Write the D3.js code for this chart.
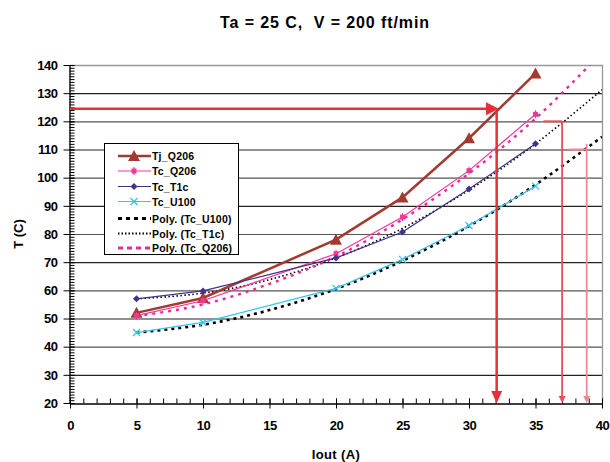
<!DOCTYPE html>
<meta charset="utf-8">
<script src="https://d3js.org/d3.v7.min.js"></script>
<style>
body { margin: 0; background: #fff; }
text { font-family: "Liberation Sans", Arial, sans-serif; font-weight: bold; fill: #000; }
.tick text { font-size: 13px; letter-spacing: -0.5px; }
.legend text { font-size: 10.5px; letter-spacing: 0.2px; }
</style>
<body>
<script>

// measured data (Iout in A, T in C)
var iout = [5, 10, 20, 25, 30, 35];
var tjQ206 = [52, 57.3, 78, 93, 114, 137];
var tcQ206 = [51, 56.3, 73, 86, 102.5, 122.5];
var tcT1c  = [57, 59.8, 71.5, 80.7, 96, 112];
var tcU100 = [45, 48.6, 60.7, 71, 83, 97];

// trendlines
var trendX = [5, 10, 15, 20, 25, 30, 35, 40];
var polyU100 = [45, 47.8, 53, 60.5, 70.5, 82.8, 97.5, 114.5];
var polyT1c  = [57, 59, 63.8, 71.5, 82, 95.6, 112, 131.2];
var polyQ206 = [50.8, 55, 62.3, 72, 85.2, 101.5, 121, 144.5];

var xTicks = [0, 5, 10, 15, 20, 25, 30, 35, 40];
var yTicks = [20, 30, 40, 50, 60, 70, 80, 90, 100, 110, 120, 130, 140];

var width = 610, height = 462;

var x = d3.scaleLinear().domain([0, 40]).range([70, 602]);
var y = d3.scaleLinear().domain([20, 140]).range([403, 65]);

var svg = d3.select("body").append("svg")
    .attr("width", width)
    .attr("height", height);

svg.append("defs").append("clipPath").attr("id", "plot")
  .append("rect")
    .attr("x", x(0)).attr("y", y(140))
    .attr("width", x(40) - x(0)).attr("height", y(20) - y(140));

// title
svg.append("text")
    .attr("x", 325).attr("y", 28)
    .attr("text-anchor", "middle")
    .style("font-size", "16px")
    .style("letter-spacing", "0.9px")
    .style("white-space", "pre")
    .text("Ta = 25 C,  V = 200 ft/min");

// grid
svg.append("g").selectAll("line")
    .data(yTicks.filter(function(d) { return d > 20 && d < 140; }))
    .enter().append("line")
    .attr("x1", x(0)).attr("x2", x(40))
    .attr("y1", function(d) { return y(d) + 0.5; })
    .attr("y2", function(d) { return y(d) + 0.5; })
    .style("stroke", function(d, i) { return i % 2 ? "#555" : "#222"; })
    .style("stroke-width", 1.2);

// top and right frame
svg.append("path")
    .attr("d", "M" + x(0) + "," + (y(140) + 0.5) + "H" + (x(40) + 0.5) + "V" + y(20))
    .style("fill", "none").style("stroke", "#999").style("stroke-width", 1.3);

// minor ticks
svg.append("g")
    .attr("transform", "translate(" + (x(0) - 0.5) + ",0)")
    .call(d3.axisRight(y).tickValues(d3.range(20, 141, 1)).tickSize(5).tickFormat(""))
    .call(function(g) { g.select(".domain").remove(); });
svg.append("g")
    .attr("transform", "translate(0," + (y(20) + 0.5) + ")")
    .call(d3.axisTop(x).tickValues(d3.range(0, 41, 1)).tickSize(5).tickFormat(""))
    .call(function(g) { g.select(".domain").remove(); });

// major axes
var yAxis = svg.append("g")
    .attr("transform", "translate(" + (x(0) - 0.5) + ",0)")
    .call(d3.axisLeft(y).tickValues(yTicks).tickSize(6).tickSizeOuter(0).tickPadding(6));
yAxis.selectAll(".tick line").attr("x2", 5);
yAxis.selectAll(".tick line").attr("x1", -6);

var xAxis = svg.append("g")
    .attr("transform", "translate(0," + (y(20) + 0.5) + ")")
    .call(d3.axisBottom(x).tickValues(xTicks).tickSize(5).tickSizeOuter(0).tickPadding(12));
xAxis.selectAll(".tick line").attr("y1", -5).attr("y2", 5);
svg.selectAll(".domain").style("stroke-width", 1.3);

// axis titles
svg.append("text")
    .attr("transform", "translate(23,234) rotate(-90)")
    .attr("text-anchor", "middle")
    .style("font-size", "13px")
    .text("T (C)");
svg.append("text")
    .attr("x", 336).attr("y", 459)
    .attr("text-anchor", "middle")
    .style("font-size", "13px")
    .style("letter-spacing", "0.4px")
    .text("Iout (A)");

var plot = svg.append("g").attr("clip-path", "url(#plot)");

var trend = d3.line()
    .x(function(d) { return x(d[0]); })
    .y(function(d) { return y(d[1]); })
    .curve(d3.curveNatural);
var straight = d3.line()
    .x(function(d) { return x(d[0]); })
    .y(function(d) { return y(d[1]); });

function pairs(xs, ys) { return xs.map(function(v, i) { return [v, ys[i]]; }); }

// trendlines
plot.append("path").attr("d", trend(pairs(trendX, polyU100)))
    .style("fill", "none").style("stroke", "#000").style("stroke-width", 2.6)
    .style("stroke-dasharray", "3,4");
plot.append("path").attr("d", trend(pairs(trendX, polyT1c)))
    .style("fill", "none").style("stroke", "#000").style("stroke-width", 1.6)
    .style("stroke-dasharray", "1.5,2.5");
plot.append("path").attr("d", trend(pairs(trendX, polyQ206)))
    .style("fill", "none").style("stroke", "#ee2a8f").style("stroke-width", 2.4)
    .style("stroke-dasharray", "3,5");

// series
var series = [
  {name: "Tj_Q206", vals: tjQ206, color: "#a33a30", width: 2.5, marker: "triangle"},
  {name: "Tc_Q206", vals: tcQ206, color: "#f2379a", width: 1.2, marker: "square"},
  {name: "Tc_T1c",  vals: tcT1c,  color: "#44308e", width: 1.2, marker: "diamond"},
  {name: "Tc_U100", vals: tcU100, color: "#35c4ea", width: 1.2, marker: "cross"}
];

function marker(g, type, color) {
  if (type == "triangle") {
    g.append("path").attr("d", "M0,-6L6,5L-6,5Z").style("fill", color);
  } else if (type == "square") {
    g.append("rect").attr("x", -2.5).attr("y", -2.5).attr("width", 5).attr("height", 5).style("fill", color);
    g.append("line").attr("x1", 0).attr("x2", 0).attr("y1", -4).attr("y2", 4).style("stroke", color).style("stroke-width", 1);
  } else if (type == "diamond") {
    g.append("path").attr("d", "M0,-3.5L3.5,0L0,3.5L-3.5,0Z").style("fill", color);
  } else {
    g.append("path").attr("d", "M-3.5,-3.5L3.5,3.5M-3.5,3.5L3.5,-3.5")
      .style("stroke", color).style("stroke-width", 1.3);
  }
}

series.forEach(function(s) {
  plot.append("path").attr("d", straight(pairs(iout, s.vals)))
      .style("fill", "none").style("stroke", s.color).style("stroke-width", s.width);
  plot.selectAll(null).data(pairs(iout, s.vals)).enter().append("g")
      .attr("transform", function(d) { return "translate(" + x(d[0]) + "," + y(d[1]) + ")"; })
      .each(function() { marker(d3.select(this), s.marker, s.color); });
});

// arrows
function arrowDown(cx, tipY, w, h, color) {
  svg.append("path")
    .attr("d", "M" + (cx - w / 2) + "," + (tipY - h) + "L" + (cx + w / 2) + "," + (tipY - h) + "L" + cx + "," + tipY + "Z")
    .style("fill", color);
}

var red = "#e5303a";
svg.append("line")
    .attr("x1", x(0)).attr("x2", x(32.25) - 10)
    .attr("y1", y(124.5)).attr("y2", y(124.5))
    .style("stroke", red).style("stroke-width", 2.5);
svg.append("path")
    .attr("d", "M" + x(32.25) + "," + y(124.5) + "l-13,-6.5l0,13Z")
    .style("fill", red);
svg.append("line")
    .attr("x1", x(32.08)).attr("x2", x(32.08))
    .attr("y1", y(123.5)).attr("y2", y(20) - 10)
    .style("stroke", red).style("stroke-width", 2.5);
arrowDown(x(32.08), y(20), 11, 12, red);

var thin = [
  {x0: 35.6, x1: 37, yv: 120, top: 120, color: "#e5505c"},
  {x0: 37.5, x1: 38.85, yv: 110, top: 112, color: "#f08890"}
];
thin.forEach(function(t) {
  svg.append("line")
      .attr("x1", x(t.x0)).attr("x2", x(t.x1))
      .attr("y1", y(t.yv)).attr("y2", y(t.yv))
      .style("stroke", t.color).style("stroke-width", 2);
  svg.append("line")
      .attr("x1", x(t.x1)).attr("x2", x(t.x1))
      .attr("y1", y(t.top)).attr("y2", y(20) - 5)
      .style("stroke", t.color).style("stroke-width", 1.8);
  arrowDown(x(t.x1), y(20), 7, 7, t.color);
});

// legend
var legend = svg.append("g").attr("class", "legend");
legend.append("rect")
    .attr("x", 104.5).attr("y", 143.5).attr("width", 134).attr("height", 111)
    .style("fill", "#fff").style("stroke", "#000").style("stroke-width", 1);

var legendRows = [
  {label: "Tj_Q206", y: 156, s: series[0]},
  {label: "Tc_Q206", y: 171, s: series[1]},
  {label: "Tc_T1c", y: 186.5, s: series[2]},
  {label: "Tc_U100", y: 201.5, s: series[3]},
  {label: "Poly. (Tc_U100)", y: 218.5, dash: "4,4", color: "#000", w: 3},
  {label: "Poly. (Tc_T1c)", y: 233.5, dash: "1.5,2", color: "#000", w: 1.8},
  {label: "Poly. (Tc_Q206)", y: 248, dash: "5,4", color: "#ee2a8f", w: 3}
];

legendRows.forEach(function(r) {
  if (r.s) {
    legend.append("line").attr("x1", 118).attr("x2", 151).attr("y1", r.y).attr("y2", r.y)
        .style("stroke", r.s.color).style("stroke-width", r.s.width);
    var m = legend.append("g").attr("transform", "translate(134," + r.y + ")");
    marker(m, r.s.marker, r.s.color);
  } else {
    legend.append("line").attr("x1", 118).attr("x2", 151).attr("y1", r.y).attr("y2", r.y)
        .style("stroke", r.color).style("stroke-width", r.w).style("stroke-dasharray", r.dash);
  }
  legend.append("text").attr("x", 152).attr("y", r.y + 4).text(r.label);
});

</script>
</body>
</html>
